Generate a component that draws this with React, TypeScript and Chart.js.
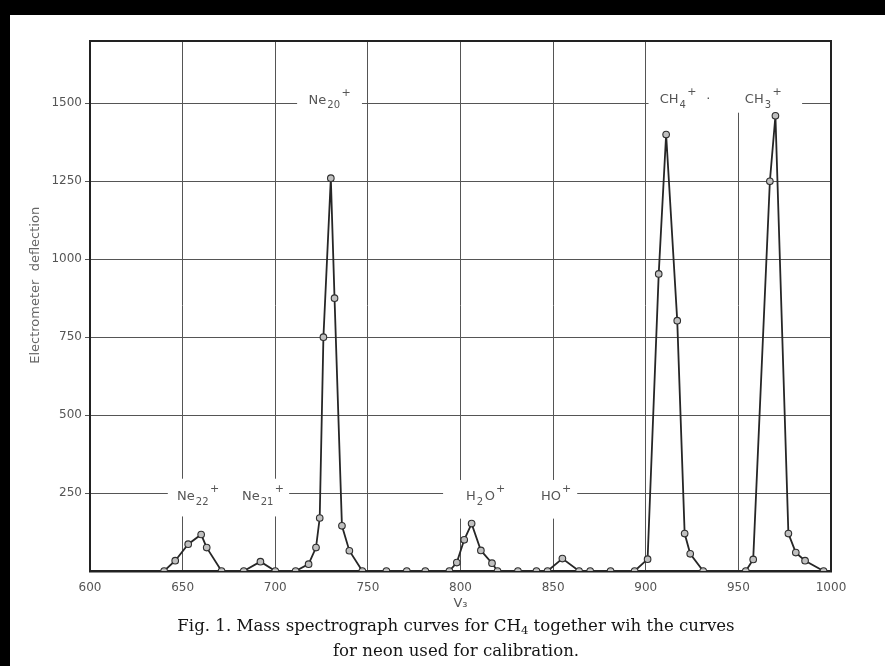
import React, { useEffect, useRef } from 'react';
import { Chart, registerables } from 'chart.js';

Chart.register(...registerables);

// Accelerating voltage V3 (x) and electrometer deflection (y)
const voltages = [
  640, 646, 653, 660, 663, 671, 683, 692, 700,
  711, 718, 722, 724, 726, 730, 732, 736, 740, 747,
  760, 771, 781, 794, 798, 802, 806, 811, 817, 820,
  831, 841, 847, 855, 864, 870, 881, 894,
  901, 907, 911, 917, 921, 924, 931,
  954, 958, 967, 970, 977, 981, 986, 996,
];
const deflections = [
  0, 33, 86, 117, 75, 0, 0, 30, 0,
  0, 22, 75, 170, 750, 1260, 875, 145, 65, 0,
  0, 0, 0, 0, 27, 100, 152, 66, 25, 0,
  0, 0, 0, 40, 0, 0, 0, 0,
  38, 953, 1400, 803, 120, 55, 0,
  0, 37, 1250, 1460, 120, 59, 33, 0,
];

const xTickValues = [600, 650, 700, 750, 800, 850, 900, 950, 1000];
const yTickValues = [250, 500, 750, 1000, 1250, 1500];
const xMin = 600;
const xMax = 1000;
const yMin = 0;
const yMax = 1700;

// Peak labels (ion names)
type Seg = { t: string; k?: 'sub' | 'sup' };
const peakNames: Seg[][] = [
  [{ t: 'Ne' }, { t: '22', k: 'sub' }, { t: '+', k: 'sup' }],
  [{ t: 'Ne' }, { t: '21', k: 'sub' }, { t: '+', k: 'sup' }],
  [{ t: 'Ne' }, { t: '20', k: 'sub' }, { t: '+', k: 'sup' }],
  [{ t: 'H' }, { t: '2', k: 'sub' }, { t: 'O' }, { t: '+', k: 'sup' }],
  [{ t: 'HO' }, { t: '+', k: 'sup' }],
  [{ t: 'CH' }, { t: '4', k: 'sub' }, { t: '+', k: 'sup' }, { t: '  ·' }],
  [{ t: 'CH' }, { t: '3', k: 'sub' }, { t: '+', k: 'sup' }],
];
// anchor of each label (left edge in V, vertical centre in deflection units)
const peakNameV = [647, 682, 718, 803, 843.5, 907.5, 953.5];
const peakNameY = [237, 237, 1508, 237, 237, 1511, 1511];

// white areas where the ruled grid is interrupted around the labels
const clearBoxes = [
  { x0: 642, x1: 707.5, y0: 175, y1: 296 },
  { x0: 711.8, x1: 746.8, y0: 1452, y1: 1560 },
  { x0: 790.6, x1: 863, y0: 168, y1: 292 },
  { x0: 901.5, x1: 984.4, y0: 1470, y1: 1700 },
];

const labelFont = '"DejaVu Sans", sans-serif';

function drawSegs(ctx: CanvasRenderingContext2D, segs: Seg[], px: number, py: number) {
  let cx = px;
  for (const s of segs) {
    const size = s.k === 'sub' ? 10 : s.k === 'sup' ? 11 : 13;
    const dy = s.k === 'sub' ? 5 : s.k === 'sup' ? -8 : 0;
    ctx.font = `${size}px ${labelFont}`;
    ctx.fillText(s.t, cx, py + dy);
    cx += ctx.measureText(s.t).width + (s.k ? 1.5 : 1);
  }
}

const annotPlugin = {
  id: 'annot',
  beforeDatasetsDraw(chart: any) {
    const { ctx, scales } = chart;
    const x = scales.x;
    const y = scales.y;
    ctx.save();
    ctx.fillStyle = '#ffffff';
    for (const c of clearBoxes) {
      const X0 = x.getPixelForValue(c.x0);
      const X1 = x.getPixelForValue(c.x1);
      const Y0 = y.getPixelForValue(c.y1);
      const Y1 = y.getPixelForValue(c.y0);
      ctx.fillRect(X0, Y0, X1 - X0, Y1 - Y0);
    }
    ctx.restore();
  },
  afterDatasetsDraw(chart: any) {
    const { ctx, scales } = chart;
    const x = scales.x;
    const y = scales.y;
    ctx.save();
    ctx.fillStyle = '#555';
    ctx.textBaseline = 'middle';
    ctx.textAlign = 'left';
    peakNames.forEach((segs, i) => {
      drawSegs(ctx, segs, x.getPixelForValue(peakNameV[i]), y.getPixelForValue(peakNameY[i]));
    });
    ctx.restore();
  },
  afterDraw(chart: any) {
    const { ctx, chartArea } = chart;
    ctx.save();
    ctx.strokeStyle = '#222';
    ctx.lineWidth = 2;
    ctx.beginPath();
    ctx.moveTo(chartArea.left, chartArea.top);
    ctx.lineTo(chartArea.right, chartArea.top);
    ctx.lineTo(chartArea.right, chartArea.bottom);
    ctx.stroke();
    ctx.restore();
  },
};

export default function App() {
  const ref = useRef<HTMLCanvasElement>(null);

  useEffect(() => {
    const canvas = ref.current;
    if (!canvas) return;
    const chart = new Chart(canvas, {
      type: 'line',
      data: {
        datasets: [
          {
            data: voltages.map((v, i) => ({ x: v, y: deflections[i] })),
            borderColor: '#262626',
            borderWidth: 1.8,
            pointRadius: 3.3,
            pointBackgroundColor: '#c0c0c0',
            pointBorderColor: '#2e2e2e',
            pointBorderWidth: 1.1,
            tension: 0,
          },
        ],
      },
      options: {
        responsive: false,
        animation: false,
        devicePixelRatio: 1,
        layout: { padding: { top: 41, right: 54, bottom: 51, left: 0 } },
        plugins: { legend: { display: false }, tooltip: { enabled: false } },
        scales: {
          x: {
            type: 'linear',
            min: xMin,
            max: xMax,
            afterBuildTicks: (s: any) => {
              s.ticks = xTickValues.map((v) => ({ value: v }));
            },
            afterFit: (s: any) => {
              s.height = 44;
            },
            ticks: {
              color: '#555',
              font: { family: 'DejaVu Sans', size: 12 },
              padding: 10,
              maxRotation: 0,
              autoSkip: false,
              callback: (v: any) => String(v),
            },
            grid: { color: '#555', lineWidth: 1, drawTicks: false },
            border: { display: true, color: '#222', width: 2.5 },
            title: {
              display: true,
              text: 'V₃',
              color: '#555',
              font: { family: 'DejaVu Sans', size: 13 },
              padding: { top: 0, bottom: 4 },
            },
          },
          y: {
            type: 'linear',
            min: yMin,
            max: yMax,
            afterBuildTicks: (s: any) => {
              s.ticks = yTickValues.map((v) => ({ value: v }));
            },
            afterFit: (s: any) => {
              s.width = 90;
            },
            ticks: {
              color: '#555',
              font: { family: 'DejaVu Sans', size: 12 },
              padding: 3,
              autoSkip: false,
              callback: (v: any) => String(v),
            },
            grid: { color: '#555', lineWidth: 1, drawTicks: true, tickLength: 5 },
            border: { display: true, color: '#222', width: 2 },
            title: {
              display: true,
              text: '          Electrometer  deflection',
              color: '#666',
              font: { family: 'DejaVu Sans', size: 13 },
              padding: { top: 28, bottom: 0 },
            },
          },
        },
      },
      plugins: [annotPlugin],
    });
    return () => chart.destroy();
  }, []);

  return (
    <div
      style={{
        position: 'fixed',
        left: 0,
        top: 0,
        width: 885,
        height: 666,
        background: '#fff',
        overflow: 'hidden',
      }}
    >
      <canvas
        ref={ref}
        width={885}
        height={666}
        style={{ position: 'absolute', left: 0, top: 0, width: 885, height: 666 }}
      />
      <div
        style={{
          position: 'absolute',
          left: 0,
          top: 614,
          width: 912,
          textAlign: 'center',
          fontFamily: '"DejaVu Serif", serif',
          fontSize: 16.6,
          lineHeight: '24px',
          color: '#151515',
        }}
      >
        Fig. 1. Mass spectrograph curves for CH
        <span style={{ fontSize: '0.7em', position: 'relative', top: '0.3em' }}>4</span> together wih the curves
        <br />
        for neon used for calibration.
      </div>
      <div style={{ position: 'absolute', left: 0, top: 0, width: 885, height: 15, background: '#000' }} />
      <div style={{ position: 'absolute', left: 0, top: 0, width: 10, height: 666, background: '#000' }} />
    </div>
  );
}
